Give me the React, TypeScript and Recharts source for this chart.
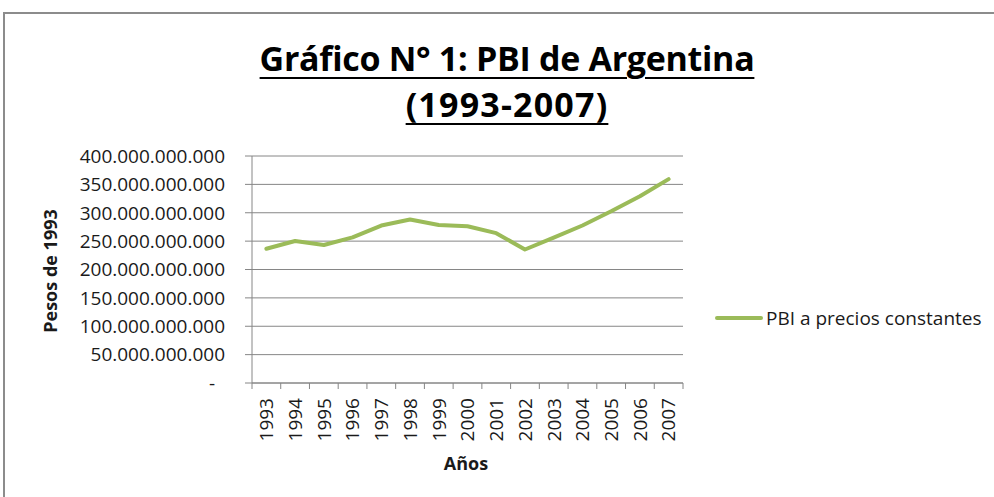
import React from 'react';
import { LineChart, Line, XAxis, YAxis, CartesianGrid, Legend } from 'recharts';

const years = ['1993', '1994', '1995', '1996', '1997', '1998', '1999', '2000', '2001', '2002', '2003', '2004', '2005', '2006', '2007'];
const pbiBillions = [236.5, 250.3, 243.2, 256.6, 277.4, 288.1, 278.4, 276.2, 264.0, 235.2, 256.0, 277.5, 302.5, 329.0, 359.2];
const yTicks = [0, 50e9, 100e9, 150e9, 200e9, 250e9, 300e9, 350e9, 400e9];
const seriesName = 'PBI a precios constantes';

const data = years.map((y, i) => ({ year: y, pbi: pbiBillions[i] * 1e9 }));

const FONT = '"Open Sans", "Noto Sans", sans-serif';
const AXIS_GRAY = '#868686';
const GREEN = '#9BBB59';
const TEXT = '#1a1a1a';

const fmt = (n: number) => (n === 0 ? '-' : String(Math.round(n)).replace(/\B(?=(\d{3})+(?!\d))/g, '.'));

const PLOT_W = 431;

const XTick = (props: any) => {
  const { x, y, payload, index } = props;
  const bw = PLOT_W / years.length;
  const y0 = y - 15;
  return (
    <g>
      <line x1={x - bw / 2} x2={x - bw / 2} y1={y0} y2={y0 + 6} stroke={AXIS_GRAY} strokeWidth={1} />
      {index === years.length - 1 && (
        <line x1={x + bw / 2} x2={x + bw / 2} y1={y0} y2={y0 + 6} stroke={AXIS_GRAY} strokeWidth={1} />
      )}
      <g transform={`translate(${x},${y})`}>
        <text transform="rotate(-90)" textAnchor="end" dy="0.36em" fontFamily={FONT} fontSize={19} fill={TEXT}>
          {payload.value}
        </text>
      </g>
    </g>
  );
};

const YTick = (props: any) => {
  const { x, y, payload } = props;
  const isZero = payload.value === 0;
  return (
    <text x={isZero ? x - 10 : x} y={y} dy="0.36em" textAnchor="end" fontFamily={FONT} fontSize={19} fill={TEXT}>
      {fmt(payload.value)}
    </text>
  );
};

const LegendContent = () => (
  <div style={{ display: 'flex', alignItems: 'center', fontFamily: FONT, fontSize: 19, color: TEXT, whiteSpace: 'nowrap' }}>
    <svg width={48} height={10} style={{ display: 'block' }}>
      <line x1={2} x2={46} y1={5} y2={5} stroke={GREEN} strokeWidth={4} strokeLinecap="round" />
    </svg>
    <span style={{ marginLeft: 3 }}>{seriesName}</span>
  </div>
);

export default function App() {
  return (
    <div style={{ position: 'absolute', top: 0, left: 0, width: 994, height: 497, background: '#fff', overflow: 'hidden' }}>
      <div
        style={{
          position: 'absolute',
          top: 12,
          left: 3,
          width: 1000,
          height: 500,
          borderTop: '2px solid #8c8c8c',
          borderLeft: '2px solid #8c8c8c',
        }}
      />
      <div style={{ position: 'absolute', top: 0, left: 0 }}>
        <LineChart width={994} height={497} data={data} margin={{ top: 156, right: 311, bottom: 54, left: 52 }}>
          <CartesianGrid horizontal vertical={false} stroke={AXIS_GRAY} strokeWidth={1} />
          <XAxis
            dataKey="year"
            scale="band"
            interval={0}
            height={60}
            tickLine={false}
            tickSize={0}
            tickMargin={15}
            axisLine={{ stroke: AXIS_GRAY, strokeWidth: 1 }}
            tick={<XTick />}
            label={{
              content: () => (
                <text x={466} y={470} textAnchor="middle" fontFamily={FONT} fontWeight="bold" fontSize={18} fill={TEXT}>
                  Años
                </text>
              ),
            }}
          />
          <YAxis
            width={200}
            domain={[0, 400e9]}
            ticks={yTicks}
            interval={0}
            tickSize={7}
            tickMargin={20}
            tickLine={{ stroke: AXIS_GRAY, strokeWidth: 1 }}
            axisLine={{ stroke: AXIS_GRAY, strokeWidth: 1 }}
            tick={<YTick />}
            label={{
              content: () => (
                <text
                  x={50}
                  y={271}
                  transform="rotate(-90, 50, 271)"
                  textAnchor="middle"
                  dominantBaseline="central"
                  fontFamily={FONT}
                  fontWeight="bold"
                  fontSize={18}
                  fill={TEXT}
                >
                  Pesos de 1993
                </text>
              ),
            }}
          />
          <Legend
            layout="horizontal"
            verticalAlign="middle"
            align="center"
            content={<LegendContent />}
            wrapperStyle={{ position: 'absolute', left: 715, top: 305, width: 'auto' }}
          />
          <Line
            type="linear"
            dataKey="pbi"
            name={seriesName}
            stroke={GREEN}
            strokeWidth={4}
            strokeLinecap="round"
            strokeLinejoin="round"
            dot={false}
            activeDot={false}
            isAnimationActive={false}
          />
        </LineChart>
      </div>
      <div
        style={{
          position: 'absolute',
          top: 35,
          left: 0,
          width: 1014,
          textAlign: 'center',
          fontFamily: FONT,
          fontWeight: 'bold',
          fontSize: 34,
          lineHeight: '46px',
          color: '#000',
          textDecoration: 'underline',
          textDecorationThickness: '2px',
          textUnderlineOffset: '6px',
        }}
      >
        <div style={{ letterSpacing: '-0.3px' }}>Gráfico N° 1: PBI de Argentina</div>
        <div style={{ letterSpacing: '1.2px' }}>(1993-2007)</div>
      </div>
    </div>
  );
}
